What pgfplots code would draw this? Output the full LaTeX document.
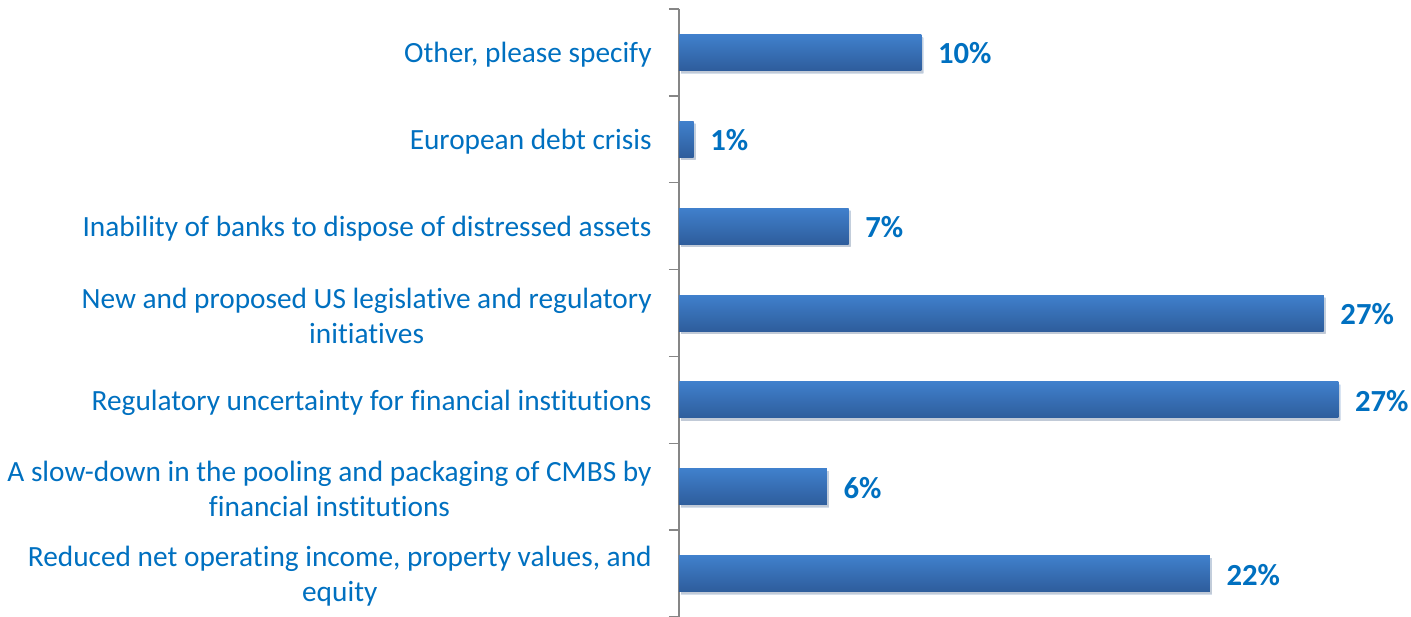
\documentclass[border=0pt]{standalone}
\usepackage{pgfplots}
\pgfplotsset{compat=1.18}
\usepackage{fontspec}
\setmainfont[Ligatures=NoCommon]{Carlito}
\usetikzlibrary{shadows}
\definecolor{txtblue}{HTML}{0070C0}
\definecolor{bartop}{HTML}{4080CC}
\definecolor{barbot}{HTML}{2E5D9C}
\definecolor{axgray}{HTML}{868686}
\begin{document}
\begin{tikzpicture}
\useasboundingbox (0,0) rectangle (1058.25pt,462.75pt);
\begin{axis}[
  at={(509.25pt,0pt)}, anchor=south west,
  scale only axis, width=549pt, height=456pt,
  xmin=0, xmax=30.2,
  ymin=-0.5, ymax=6.5, y dir=reverse,
  axis x line=none,
  axis y line*=left,
  axis line style={draw=axgray, line width=1pt},
  ytick={0,...,6},
  yticklabels={{Other, please specify},{European debt crisis},{Inability of banks to dispose of distressed assets},{New and proposed US legislative and regulatory\\initiatives},{Regulatory uncertainty for financial institutions},{A slow-down in the pooling and packaging of CMBS by\\financial institutions},{Reduced net operating income, property values, and\\equity}},
  major tick length=0pt,
  extra y ticks={-0.5,0.5,...,6.5},
  extra y tick labels={},
  extra y tick style={major tick length=7.5pt, tick align=outside, tick style={draw=axgray, line width=1pt}},
  yticklabel style={align=center, text=txtblue, font={\fontsize{22}{26.25}\selectfont}, xshift=-17pt, yshift=-2pt},
  clip=false,
  xbar, bar width=27pt, bar shift=0pt,
  point meta=x,
  /pgf/number format/assume math mode=true,
  nodes near coords={\pgfmathprintnumber[fixed,precision=0]{\pgfplotspointmeta}\%},
  nodes near coords style={anchor=west, xshift=9pt, yshift=-0.75pt, text=txtblue, font={\fontsize{23}{26}\selectfont\bfseries}},
  every axis plot/.append style={draw=none, top color=bartop, bottom color=barbot, drop shadow={opacity=0.2, shadow xshift=1.5pt, shadow yshift=-2pt}},
]
\addplot coordinates {(10.0,0)};
\addplot coordinates {(0.6,1)};
\addplot coordinates {(7.0,2)};
\addplot coordinates {(26.6,3)};
\addplot coordinates {(27.2,4)};
\addplot coordinates {(6.1,5)};
\addplot coordinates {(21.9,6)};
\end{axis}
\end{tikzpicture}
\end{document}
